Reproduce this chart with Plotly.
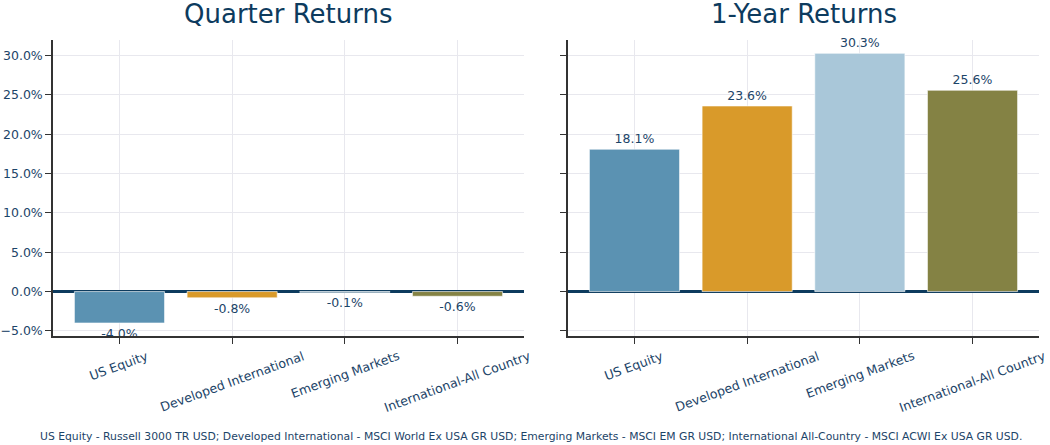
import plotly.graph_objects as go

categories = ["US Equity", "Developed International", "Emerging Markets", "International-All Country"]
quarter_returns = [-4.0, -0.8, -0.1, -0.6]
year_returns = [18.1, 23.6, 30.3, 25.6]
bar_colors = ["#5b92b2", "#d99a2a", "#a9c7d9", "#848244"]
panel_titles = ["Quarter Returns", "1-Year Returns"]
y_ticks = [-5, 0, 5, 10, 15, 20, 25, 30]
y_tick_labels = ["\u22125.0%", "0.0%", "5.0%", "10.0%", "15.0%", "20.0%", "25.0%", "30.0%"]
footnote = ("US Equity - Russell 3000 TR USD; Developed International - MSCI World Ex USA GR USD; "
            "Emerging Markets - MSCI EM GR USD; International All-Country - MSCI ACWI Ex USA GR USD.")

NAVY = "#0d3b5e"
TICK = "#1c4468"
FONT = "DejaVu Sans"
W, H = 1050, 445

fig = go.Figure()

for i, vals in enumerate([quarter_returns, year_returns]):
    xa = "x" if i == 0 else "x2"
    ya = "y" if i == 0 else "y2"
    fig.add_trace(go.Bar(
        x=list(range(len(categories))), y=vals, xaxis=xa, yaxis=ya,
        marker=dict(color=bar_colors, line=dict(color="rgba(255,255,255,0.6)", width=1)),
        width=0.8,
        text=[f"{v:.1f}%" for v in vals], textposition="outside",
        textfont=dict(family=FONT, size=12.5, color=TICK),
        cliponaxis=False, constraintext="none", showlegend=False,
    ))

yr = [-5.715, 32.015]
xr = [-0.59, 3.59]
common_x = dict(range=xr, tickvals=list(range(len(categories))), showticklabels=False,
                ticks="outside", ticklen=6, tickcolor="#333333", tickwidth=1.2,
                showgrid=True, gridcolor="#e8e8ee", gridwidth=1,
                showline=True, linecolor="#333333", linewidth=1.5, zeroline=False)
common_y = dict(range=yr, tickvals=y_ticks, ticktext=y_tick_labels, ticks="outside", ticklen=6,
                tickcolor="#333333", tickwidth=1.2, showgrid=True, gridcolor="#e8e8ee", gridwidth=1,
                showline=True, linecolor="#333333", linewidth=1.5,
                zeroline=True, zerolinecolor=NAVY, zerolinewidth=2.5,
                tickfont=dict(family=FONT, size=12.5, color=TICK))

ydom = [1 - 338 / H, 1 - 40 / H]
xdom1 = [53 / W, 524 / W]
xdom2 = [568 / W, 1039 / W]
fig.update_layout(
    width=W, height=H, margin=dict(l=0, r=0, t=0, b=0),
    plot_bgcolor="white", paper_bgcolor="white", bargap=0.2,
    xaxis=dict(domain=xdom1, anchor="y", **common_x),
    xaxis2=dict(domain=xdom2, anchor="y2", **common_x),
    yaxis=dict(domain=ydom, anchor="x", **common_y),
    yaxis2=dict(domain=ydom, anchor="x2", showticklabels=False, **common_y),
)

annotations = []
centers = [(xdom1[0] + xdom1[1]) / 2, (xdom2[0] + xdom2[1]) / 2]
for i, t in enumerate(panel_titles):
    annotations.append(dict(text=t, x=centers[i], y=1 - 14 / H, xref="paper", yref="paper",
                            xanchor="center", yanchor="middle", showarrow=False,
                            font=dict(family=FONT, size=26, color=NAVY)))
for i, xa in enumerate(["x", "x2"]):
    for j, c in enumerate(categories):
        annotations.append(dict(text=c, x=j, y=1 - 347 / H, xref=xa, yref="paper",
                                xanchor="center", yanchor="top", textangle=-20,
                                showarrow=False, font=dict(family=FONT, size=12.6, color=TICK)))
annotations.append(dict(text=footnote, x=531 / W, y=1 - 438 / H, xref="paper", yref="paper",
                        xanchor="center", yanchor="middle", showarrow=False,
                        font=dict(family=FONT, size=10.8, color=TICK)))
fig.update_layout(annotations=annotations)

fig.write_html("out.html", config={"displayModeBar": False},
               post_script="document.body.style.margin='0';document.body.style.overflow='hidden';")
